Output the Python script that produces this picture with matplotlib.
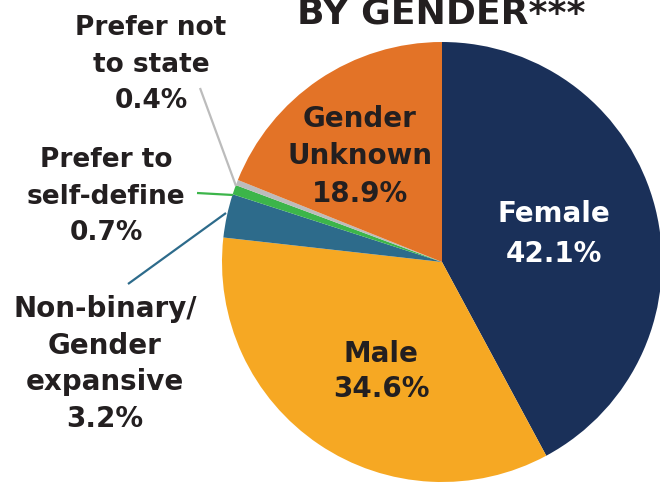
#!/usr/bin/env python3

import matplotlib.pyplot as plt

# data
categories = ['Female', 'Male', 'Non-binary/\nGender\nexpansive',
              'Prefer to\nself-define', 'Prefer not\nto state', 'Gender\nUnknown']
shares = [42.1, 34.6, 3.2, 0.7, 0.4, 18.9]
colors = ['#1a3059', '#f6a823', '#2d6b8b', '#3cb54a', '#bcbcbc', '#e37327']
title = 'BY GENDER***'

W, H = 660, 485
dark = '#231f20'


def py(y):
    ''' pixel row (from top) to data y '''
    return H - y


fig = plt.figure(figsize=(W / 100, H / 100), dpi=100)
ax = fig.add_axes([0, 0, 1, 1])

ax.pie(shares, colors=colors, startangle=90, counterclock=False,
       center=(442, py(263)), radius=220,
       wedgeprops=dict(linewidth=0))

ax.set_xlim(0, W)
ax.set_ylim(0, H)
ax.set_aspect('equal')
ax.axis('off')


def label(text, x, first, step, size, color=dark):
    ''' one text line per row, baselines "step" px apart '''
    for i, line in enumerate(text.split('\n')):
        ax.text(x, py(first + i * step), line, ha='center', va='baseline',
                fontsize=size, fontweight='bold', color=color,
                family='DejaVu Sans')


# (label text, x centre, first baseline, line step, font size, colour)
layout = [
    (categories[0] + '\n%.1f%%' % shares[0], 554, 222, 40, 20, 'white'),
    (categories[1] + '\n%.1f%%' % shares[1], 381, 362, 35, 20, dark),
    (categories[2] + '\n%.1f%%' % shares[2], 105, 317, 36.7, 20, dark),
    (categories[3] + '\n%.1f%%' % shares[3], 106, 167, 36.5, 19, dark),
    (categories[4] + '\n%.1f%%' % shares[4], 151, 35, 36.5, 19, dark),
    (categories[5] + '\n%.1f%%' % shares[5], 360, 127, 37.5, 20, dark),
]
for text, x, first, step, size, color in layout:
    label(text, x, first, step, size, color)

# leader lines for the thin slices
ax.plot([200, 236], [py(89), py(187)], color=colors[4], lw=1.6,
        solid_capstyle='butt')
ax.plot([197, 233], [py(194), py(196)], color=colors[3], lw=1.6,
        solid_capstyle='butt')
ax.plot([128, 226], [py(285), py(214)], color=colors[2], lw=1.6,
        solid_capstyle='butt')

# title, cut off at the top like the reference
ax.text(297, py(24), title, ha='left', va='baseline', fontsize=26,
        fontweight='bold', color=dark, family='DejaVu Sans')

fig.savefig('out.png', dpi=100)
